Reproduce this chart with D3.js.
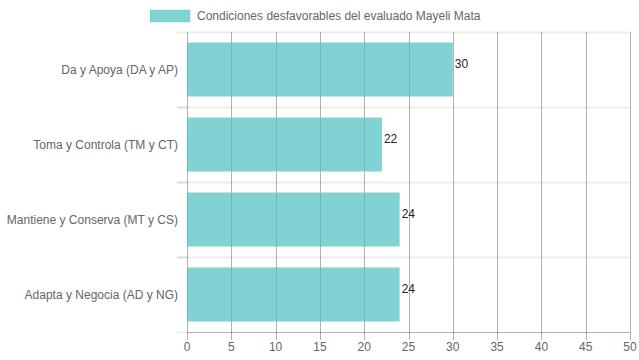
<!DOCTYPE html>
<html><head><meta charset="utf-8">
<script src="https://cdn.jsdelivr.net/npm/d3@7"></script>
<style>body{margin:0;background:#fff}svg{display:block}</style>
</head><body>
<script>
const categories = ["Da y Apoya (DA y AP)", "Toma y Controla (TM y CT)", "Mantiene y Conserva (MT y CS)", "Adapta y Negocia (AD y NG)"];
const values = [30, 22, 24, 24];
const seriesName = "Condiciones desfavorables del evaluado Mayeli Mata";
const xTicks = [0, 5, 10, 15, 20, 25, 30, 35, 40, 45, 50];

const W = 639, H = 360;
const m = {top: 32, right: 9, bottom: 28, left: 187};
const svg = d3.select("body").append("svg").attr("width", W).attr("height", H);
const font = "Liberation Sans, Arial, Helvetica, sans-serif";

const x = d3.scaleLinear().domain([0, 50]).range([m.left, W - m.right]);
const y = d3.scaleBand().domain(categories).range([m.top, H - m.bottom]).paddingInner(0).paddingOuter(0);
const barH = y.bandwidth() * 0.72;

// horizontal (offset) grid lines
const hLines = [...categories.map(c => y(c)), y.range()[1]];
svg.append("g").selectAll("line").data(hLines.slice(0, -1)).join("line")
  .attr("x1", m.left - 10).attr("x2", W - m.right)
  .attr("y1", d => d + 0.5).attr("y2", d => d + 0.5)
  .attr("stroke", "rgba(0,0,0,0.07)").attr("stroke-width", 2);

// vertical grid lines
svg.append("g").selectAll("line").data(xTicks).join("line")
  .attr("x1", d => Math.round(x(d)) + 0.5).attr("x2", d => Math.round(x(d)) + 0.5)
  .attr("y1", m.top).attr("y2", H - m.bottom + 8)
  .attr("stroke", "rgba(0,0,0,0.3)").attr("stroke-width", 1);

// bottom axis line
svg.append("line").attr("x1", m.left).attr("x2", W - m.right)
  .attr("y1", H - m.bottom + 0.5).attr("y2", H - m.bottom + 0.5)
  .attr("stroke", "rgba(0,0,0,0.3)");
// left tick marks
svg.append("g").selectAll("line").data(hLines.slice(1)).join("line")
  .attr("x1", m.left - 10).attr("x2", m.left)
  .attr("y1", d => d + 0.5).attr("y2", d => d + 0.5)
  .attr("stroke", "rgba(0,0,0,0.07)").attr("stroke-width", 2);

// bars
svg.append("g").selectAll("rect").data(values).join("rect")
  .attr("x", x(0)).attr("width", d => x(d) - x(0))
  .attr("y", (d, i) => y(categories[i]) + (y.bandwidth() - barH) / 2)
  .attr("height", barH)
  .attr("fill", "rgba(75,192,192,0.7)");

// value labels
svg.append("g").selectAll("text").data(values).join("text")
  .attr("x", d => x(d) + 2)
  .attr("y", (d, i) => y(categories[i]) + (y.bandwidth() - barH) / 2 + 25)
  .attr("font-family", font).attr("font-size", 12).attr("fill", "#222")
  .text(d => d);

// x tick labels
svg.append("g").selectAll("text").data(xTicks).join("text")
  .attr("x", d => x(d)).attr("y", H - m.bottom + 19)
  .attr("text-anchor", "middle").attr("font-family", font).attr("font-size", 12).attr("fill", "#666")
  .text(d => d);

// y labels
svg.append("g").selectAll("text").data(categories).join("text")
  .attr("x", m.left - 9).attr("y", d => y(d) + y.bandwidth() / 2)
  .attr("dy", "0.35em").attr("text-anchor", "end")
  .attr("font-family", font).attr("font-size", 12).attr("fill", "#666")
  .text(d => d);

// legend
const lg = svg.append("g");
lg.append("rect").attr("x", 150).attr("y", 10).attr("width", 40).attr("height", 12)
  .attr("fill", "rgba(75,192,192,0.7)").attr("stroke", "rgba(75,192,192,0.3)").attr("stroke-width", 1);
lg.append("text").attr("x", 197).attr("y", 16).attr("dy", "0.35em")
  .attr("font-family", font).attr("font-size", 12).attr("fill", "#666").text(seriesName);
</script>
</body></html>
